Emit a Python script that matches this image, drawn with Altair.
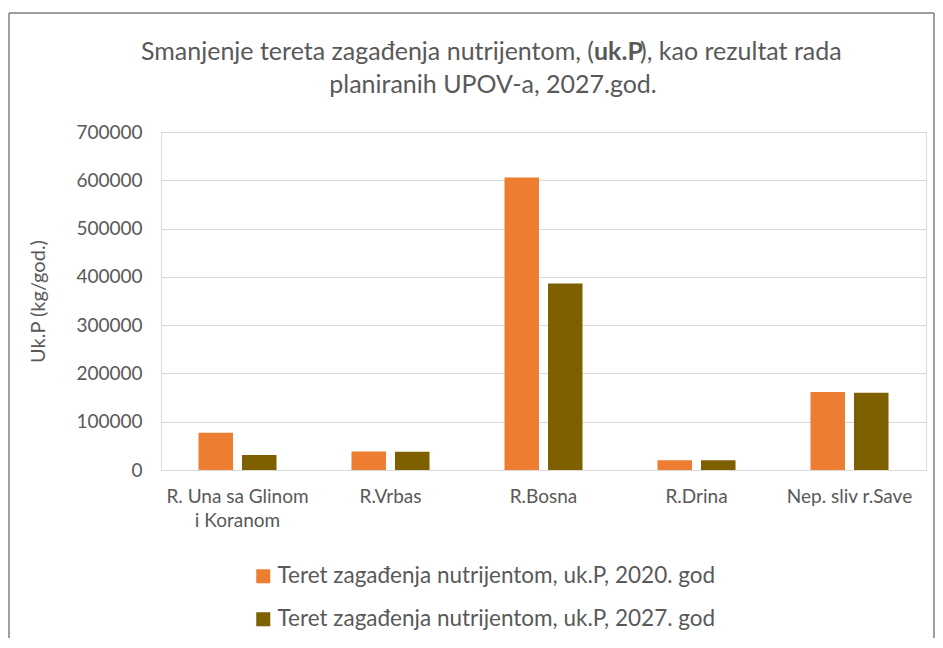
import altair as alt
import pandas as pd

categories = ["R. Una sa Glinom i Koranom", "R.Vrbas", "R.Bosna", "R.Drina", "Nep. sliv r.Save"]
series = ["Teret zagađenja nutrijentom, uk.P, 2020. god",
          "Teret zagađenja nutrijentom, uk.P, 2027. god"]
values_2020 = [77000, 38500, 606000, 20300, 161500]
values_2027 = [31000, 38000, 386000, 20300, 160000]
colors = ["#ED7D31", "#7F6000"]
y_ticks = [0, 100000, 200000, 300000, 400000, 500000, 600000, 700000]

title_part1 = "Smanjenje tereta zagađenja nutrijentom, ("
title_bold = "uk.P"
title_part3 = "), kao rezultat rada"
title_line2 = "planiranih UPOV-a, 2027.god."
y_title = "Uk.P (kg/god.)"

rows = []
for c, a, b in zip(categories, values_2020, values_2027):
    rows.append({"cat": c, "series": series[0], "value": a})
    rows.append({"cat": c, "series": series[1], "value": b})
df = pd.DataFrame(rows)

FONT = "Lato"
GREY = "#595959"
GRID = "#D9D9D9"
W, H = 765, 338

bars = alt.Chart(df).mark_bar().encode(
    x=alt.X("cat:N", sort=categories,
            scale=alt.Scale(paddingInner=0.49, paddingOuter=0.245),
            axis=alt.Axis(title=None, labelAngle=0,
                          labelExpr="datum.label == 'R. Una sa Glinom i Koranom' ? ['R. Una sa Glinom', 'i Koranom'] : datum.label",
                          labelFontSize=19, labelColor=GREY, labelFont=FONT,
                          labelPadding=17, labelLineHeight=24, labelBaseline="top",
                          ticks=False, domainColor=GRID, domainWidth=1, grid=False,
                          labelLimit=0)),
    xOffset=alt.XOffset("series:N", sort=series, scale=alt.Scale(paddingInner=0.207)),
    y=alt.Y("value:Q", scale=alt.Scale(domain=[0, 700000], nice=False),
            axis=alt.Axis(values=y_ticks, format="d", title=y_title,
                          titleFont=FONT, titleFontSize=20, titleColor=GREY,
                          titleFontWeight="normal", titleX=-123, titleY=H / 2,
                          titleAlign="center", titleBaseline="middle", titleAngle=270,
                          labelFont=FONT, labelFontSize=19, labelColor=GREY,
                          labelPadding=19, ticks=False, tickSize=0, domain=False,
                          grid=True, gridColor=GRID, gridWidth=1)),
    color=alt.Color("series:N", sort=series,
                    scale=alt.Scale(domain=series, range=colors),
                    legend=alt.Legend(title=None, orient="none", legendX=91, legendY=433,
                                      direction="vertical", symbolType="square",
                                      symbolSize=196, symbolStrokeWidth=0,
                                      labelFont=FONT, labelFontSize=22.5, labelColor=GREY,
                                      labelOffset=3, rowPadding=20, padding=0,
                                      labelLimit=0)),
)

one = pd.DataFrame({"k": [0]})
TS = 25
BW = 46
BX = 433
t1 = alt.Chart(one).mark_text(text=title_part1, align="right", baseline="middle",
                               font=FONT, fontSize=TS, color=GREY).encode(
    x=alt.value(BX), y=alt.value(-80))
t2 = alt.Chart(one).mark_text(text=title_bold, align="left", baseline="middle",
                               font=FONT, fontSize=TS, color=GREY, fontWeight="bold").encode(
    x=alt.value(BX), y=alt.value(-80))
t3 = alt.Chart(one).mark_text(text=title_part3, align="left", baseline="middle",
                               font=FONT, fontSize=TS, color=GREY).encode(
    x=alt.value(BX + BW), y=alt.value(-80))
t4 = alt.Chart(one).mark_text(text=title_line2, align="center", baseline="middle",
                               font=FONT, fontSize=TS, color=GREY).encode(
    x=alt.value(332), y=alt.value(-47))

FRAME = "#7F7F7F"
fl = alt.Chart(one).mark_rule(color=FRAME, strokeWidth=1.5).encode(
    x=alt.value(-152), y=alt.value(-119), y2=alt.value(506))
ft = alt.Chart(one).mark_rule(color=FRAME, strokeWidth=1.5).encode(
    x=alt.value(-152), x2=alt.value(773), y=alt.value(-119))
fr = alt.Chart(one).mark_rule(color=FRAME, strokeWidth=1.5).encode(
    x=alt.value(773), y=alt.value(-119), y2=alt.value(506))

chart = alt.layer(fl, ft, fr, bars, t1, t2, t3, t4).properties(
    width=W, height=H,
    autosize=alt.AutoSizeParams(type="none"),
    padding={"left": 153, "top": 124, "right": 9, "bottom": 170},
).configure_view(stroke=None).configure(background="white")

chart.save("out.html", embed_options={"renderer": "svg", "actions": False})
